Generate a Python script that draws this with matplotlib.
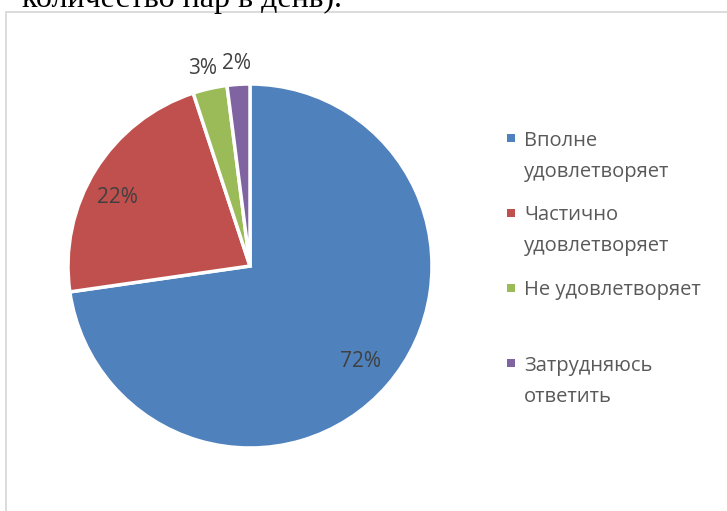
import matplotlib.pyplot as plt
import numpy as np
from matplotlib.patches import Rectangle

categories = ["Вполне\nудовлетворяет", "Частично\nудовлетворяет",
              "Не удовлетворяет", "Затрудняюсь\nответить"]
shares = [72, 22, 3, 2]
colors = ["#4F81BD", "#C0504D", "#9BBB59", "#8064A2"]
caption = "количество пар в день)."

FONT = ["Open Sans", "DejaVu Sans"]

fig = plt.figure(figsize=(7.27, 5.11), dpi=100)
W, H = 727, 511

# cut-off sentence from the document above the chart
fig.text(22 / W, 1 - 7 / H, caption, family="Liberation Serif",
         fontsize=23, color="#000000", va="baseline", ha="left")

# chart area frame (only left and top edges visible)
fig.patches.append(Rectangle((6 / W, -0.1), 1.2, 1 - 12 / H + 0.1,
                             transform=fig.transFigure, fill=False,
                             edgecolor="#D9D9D9", linewidth=1.3))

cx, cy, r = 250, 266, 182
ax = fig.add_axes([(cx - r) / W, (H - cy - r) / H, 2 * r / W, 2 * r / H])

wedges, texts, autotexts = ax.pie(
    shares, colors=colors, startangle=90, counterclock=False,
    autopct=lambda p: f"{p:.0f}%", pctdistance=0.8,
    wedgeprops=dict(edgecolor="white", linewidth=2.5),
    textprops=dict(color="#404040", fontsize=15, family=FONT))
ax.set_xlim(-1, 1)
ax.set_ylim(-1, 1)

# show the values as given and move the small ones outside
for w, t, v in zip(wedges, autotexts, shares):
    t.set_text(f"{v}%")
    ang = np.deg2rad((w.theta1 + w.theta2) / 2)
    if v < 5:
        t.set_position((1.18 * np.cos(ang), 1.115 * np.sin(ang)))
    elif v < 50:
        t.set_position((0.86 * np.cos(ang), 0.71 * np.sin(ang)))
for w in wedges:
    w.set_clip_on(False)

# legend drawn like the spreadsheet one: marker aligned with first line
y0 = 138
step = 75
line_gap = 31
for i, (lab, col) in enumerate(zip(categories, colors)):
    y = y0 + i * step
    fig.patches.append(Rectangle((507 / W, 1 - (y + 4) / H), 8 / W, 8 / H,
                                 transform=fig.transFigure, facecolor=col,
                                 edgecolor="none"))
    for j, line in enumerate(lab.split("\n")):
        fig.text(524 / W, 1 - (y + j * line_gap) / H, line, family=FONT,
                 fontsize=14.5, color="#595959", va="center_baseline",
                 ha="left")

fig.savefig("out.png", dpi=100)
